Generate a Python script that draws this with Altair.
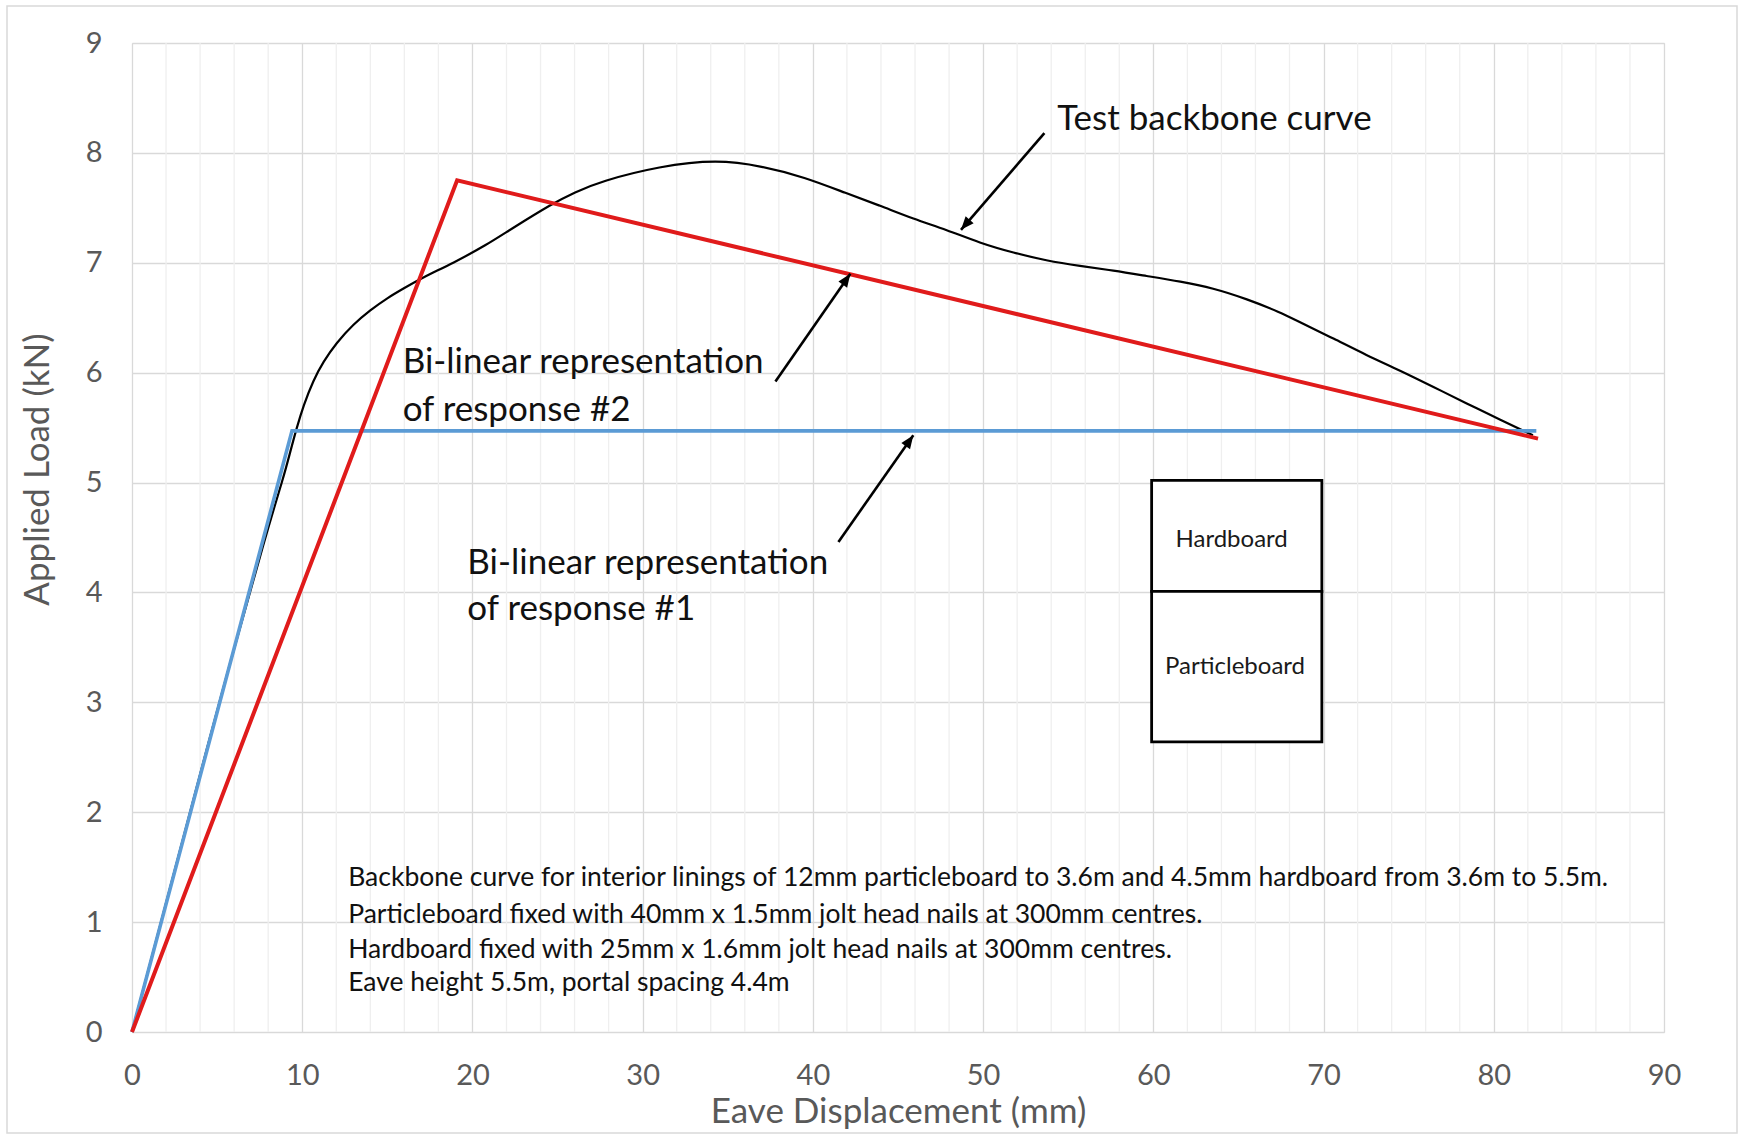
import math
import altair as alt
import pandas as pd

# ---------------- data ----------------
BLACK_X = [0, 3, 5.2, 8, 8.89, 9.28, 9.68, 10.07, 10.65, 11.24, 12.0, 13.0, 14.0, 15.0, 16.0,
           17.0, 18.9, 20.8, 22.2, 24.7, 26.0, 27.5, 31.0, 34.4, 37.0, 39.5, 42.0, 43.95,
           45.9, 47.87, 49.8, 51.8, 53.7, 55.7, 57.65, 59.6, 61.6, 63.5, 65.5, 67.45, 68.6,
           70.6, 72.5, 74.5, 76.46, 78.4, 80.4, 82.3]
BLACK_Y = [0, 1.76, 3.05, 4.6, 5.04, 5.27, 5.50, 5.70, 5.93, 6.10, 6.27, 6.44, 6.57, 6.68, 6.77,
           6.86, 7.00, 7.16, 7.30, 7.54, 7.64, 7.74, 7.88, 7.94, 7.88, 7.78, 7.63, 7.52,
           7.40, 7.30, 7.18, 7.09, 7.02, 6.97, 6.93, 6.88, 6.83, 6.77, 6.67, 6.55, 6.46,
           6.31, 6.16, 6.02, 5.87, 5.72, 5.57, 5.43]
BLUE_X = [0, 9.4, 82.5]
BLUE_Y = [0, 5.47, 5.47]
RED_X = [0, 19.1, 82.6]
RED_Y = [0, 7.75, 5.40]

X_TICKS = [0, 10, 20, 30, 40, 50, 60, 70, 80, 90]
Y_TICKS = [0, 1, 2, 3, 4, 5, 6, 7, 8, 9]
MINOR_X = [v for v in range(2, 90, 2) if v % 10]

ANNOT_TEXT = ["Test backbone curve", "Bi-linear representation", "of response #2",
              "Bi-linear representation", "of response #1"]
ANNOT_X = [54.35, 15.9, 15.9, 19.7, 19.7]
ANNOT_Y = [8.31, 6.10, 5.66, 4.27, 3.85]

ARROW_TAIL_X = [53.6, 37.8, 41.5]
ARROW_TAIL_Y = [8.18, 5.92, 4.46]
ARROW_TIP_X = [48.7, 42.2, 45.9]
ARROW_TIP_Y = [7.30, 6.90, 5.43]

NOTE_LINES = [
    "Backbone curve for interior linings of 12mm particleboard to 3.6m and 4.5mm hardboard from 3.6m to 5.5m.",
    "Particleboard fixed with 40mm x 1.5mm jolt head nails at 300mm centres.",
    "Hardboard fixed with 25mm x 1.6mm jolt head nails at 300mm centres.",
    "Eave height 5.5m, portal spacing 4.4m",
]
NOTE_X = [12.7, 12.7, 12.7, 12.7]
NOTE_Y = [1.40, 1.065, 0.746, 0.446]

BOX_LABELS = ["Hardboard", "Particleboard"]
BOX_X0 = [59.9, 59.9]
BOX_X1 = [69.9, 69.9]
BOX_Y0 = [4.01, 2.64]
BOX_Y1 = [5.02, 4.01]
BOX_LABEL_X = [64.6, 64.8]
BOX_LABEL_Y = [4.48, 3.32]

# ---------------- layout ----------------
W, H = 1532, 989
FONT = "Lato"
GRID_MAJOR = "#d9d9d9"
GRID_MINOR = "#efefef"
AX_COLOR = "#595959"

xscale = alt.Scale(domain=[0, 90], nice=False, zero=True)
yscale = alt.Scale(domain=[0, 9], nice=False, zero=True)

x_axis = alt.Axis(values=X_TICKS, title="Eave Displacement (mm)", grid=True, gridColor=GRID_MAJOR,
                  gridWidth=1.3, domain=False, ticks=False, tickSize=0, labelFontSize=29,
                  labelColor=AX_COLOR, labelPadding=29, labelFont=FONT, labelFlush=False,
                  titleFont=FONT, titleFontSize=35, titleColor=AX_COLOR,
                  titleFontWeight="normal", titleX=W / 2, titleY=79,
                  titleBaseline="middle", titleAlign="center")
y_axis = alt.Axis(values=Y_TICKS, title="Applied Load (kN)", grid=True, gridColor=GRID_MAJOR,
                  gridWidth=1.3, domain=False, ticks=False, tickSize=0, labelFontSize=29,
                  labelColor=AX_COLOR, labelPadding=30, labelFont=FONT, labelFlush=False,
                  titleFont=FONT, titleFontSize=35, titleColor=AX_COLOR,
                  titleFontWeight="normal", titleX=-95, titleY=426, titleAngle=-90,
                  titleBaseline="middle", titleAlign="center")


def X(field="x"):
    return alt.X(f"{field}:Q", scale=xscale, axis=x_axis)


def Y(field="y"):
    return alt.Y(f"{field}:Q", scale=yscale, axis=y_axis)


minor_df = pd.DataFrame({"x": MINOR_X})
minor = alt.Chart(minor_df).mark_rule(color=GRID_MINOR, strokeWidth=1.3).encode(
    x=X(), y=alt.value(0), y2=alt.value(H))

black_df = pd.DataFrame({"x": BLACK_X, "y": BLACK_Y})
blue_df = pd.DataFrame({"x": BLUE_X, "y": BLUE_Y})
red_df = pd.DataFrame({"x": RED_X, "y": RED_Y})

black = alt.Chart(black_df).mark_line(color="#000000", strokeWidth=2.2,
                                      interpolate="basis").encode(x=X(), y=Y())
blue = alt.Chart(blue_df).mark_line(color="#5b9bd5", strokeWidth=3.6).encode(x=X(), y=Y())
red = alt.Chart(red_df).mark_line(color="#e01b1b", strokeWidth=4).encode(x=X(), y=Y())

# box
box_df = pd.DataFrame({"x": BOX_X0, "x2": BOX_X1, "y": BOX_Y0, "y2": BOX_Y1})
box = alt.Chart(box_df).mark_rect(fill="white", stroke="black", strokeWidth=2.8).encode(
    x=X(), x2="x2:Q", y=Y(), y2="y2:Q")
box_lab_df = pd.DataFrame({"x": BOX_LABEL_X, "y": BOX_LABEL_Y, "t": BOX_LABELS})
box_lab = alt.Chart(box_lab_df).mark_text(font=FONT, fontSize=24, color="#1a1a1a",
                                          align="center", baseline="middle").encode(
    x=X(), y=Y(), text="t:N")

# annotations
ann_df = pd.DataFrame({"x": ANNOT_X, "y": ANNOT_Y, "t": ANNOT_TEXT})
ann = alt.Chart(ann_df).mark_text(font=FONT, fontSize=35, color="#111111", align="left",
                                  baseline="middle").encode(x=X(), y=Y(), text="t:N")

note_df = pd.DataFrame({"x": NOTE_X, "y": NOTE_Y, "t": NOTE_LINES})
note = alt.Chart(note_df).mark_text(font=FONT, fontSize=26.5, color="#111111", align="left",
                                    baseline="middle").encode(x=X(), y=Y(), text="t:N")

# arrows
sx, sy = W / 90.0, H / 9.0
angles = []
for tx, ty, hx, hy in zip(ARROW_TAIL_X, ARROW_TAIL_Y, ARROW_TIP_X, ARROW_TIP_Y):
    dx = (hx - tx) * sx
    dy_up = (hy - ty) * sy
    angles.append(math.degrees(math.atan2(dx, dy_up)) % 360)
arrow_df = pd.DataFrame({"x": ARROW_TAIL_X, "y": ARROW_TAIL_Y, "x2": ARROW_TIP_X,
                         "y2": ARROW_TIP_Y, "angle": angles})
shaft = alt.Chart(arrow_df).mark_rule(color="black", strokeWidth=2.6).encode(
    x=X(), y=Y(), x2="x2:Q", y2="y2:Q")
head_df = pd.DataFrame({"x": ARROW_TIP_X, "y": ARROW_TIP_Y, "angle": angles})
head = alt.Chart(head_df).mark_point(shape="M0,0L0.4,1L-0.4,1Z", filled=True, color="black",
                                     opacity=1, size=700).encode(
    x=X(), y=Y(), angle=alt.Angle("angle:Q", scale=None))

# outer chart border
border = alt.Chart(pd.DataFrame({"a": [0]})).mark_rect(fill=None, stroke="#d9d9d9",
                                                       strokeWidth=1.5).encode(
    x=alt.value(-125), x2=alt.value(1605), y=alt.value(-37), y2=alt.value(1090))

chart = alt.layer(border, minor, black, blue, red, box, box_lab, ann, note, shaft, head).properties(
    width=W, height=H,
    autosize=alt.AutoSizeParams(type="none"),
    padding={"left": 132, "top": 43, "right": 1742 - 132 - W, "bottom": 1139 - 43 - H},
    background="white",
).configure_view(stroke=None).configure(font=FONT)

chart.save("out.html", embed_options={"renderer": "svg", "actions": False})
